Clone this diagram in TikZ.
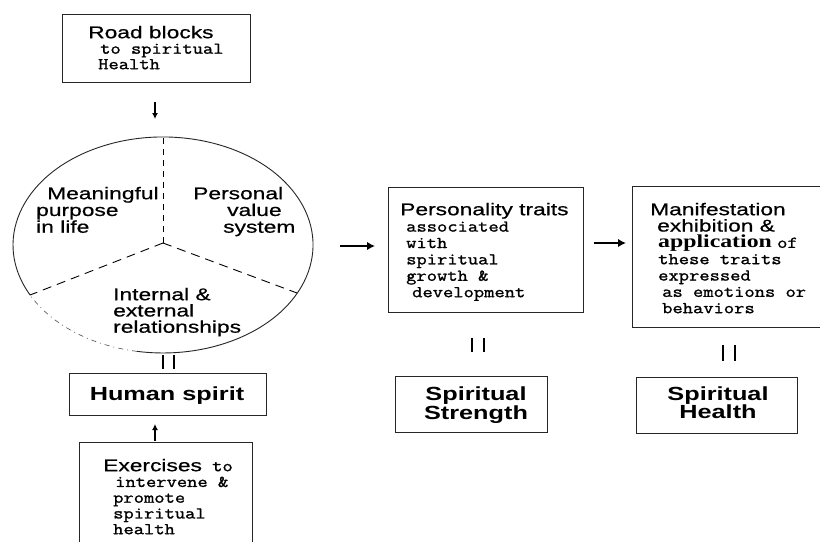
\documentclass[tikz,border=0pt]{standalone}
\usepackage{fontspec}
\usetikzlibrary{arrows.meta}
\newfontfamily\sansf[FakeStretch=1.34,FakeBold=0.6]{Liberation Sans}
\newfontfamily\sansbf[FakeStretch=1.33]{Liberation Sans}
\newfontfamily\monof[FakeBold=1.3,FakeStretch=1.21]{Latin Modern Mono}
\newfontfamily\seriff[FakeStretch=1.3]{Liberation Serif}
\newcommand\txsans{\sansf\fontsize{17}{17}\selectfont}
\newcommand\txbold{\sansbf\bfseries\fontsize{19}{19}\selectfont}
\newcommand\txmono{\monof\fontsize{16.5}{16}\selectfont}
\newcommand\txserif{\seriff\bfseries\fontsize{18.3}{17}\selectfont}
\newcommand\topline{\rule{0pt}{14pt}}
\begin{document}
\begin{tikzpicture}[x=1pt,y=-1pt,
  frame/.style={draw=black!85, line width=0.9pt, inner sep=0pt},
  openbox/.style={inner sep=0pt},
  blk/.style={align=left, anchor=north west, inner sep=0pt,
    font={\txmono\lineskiplimit=-100pt\baselineskip=#1}},
  cblk/.style={align=center, anchor=north, inner sep=0pt,
    font={\txbold\lineskiplimit=-100pt\baselineskip=#1}},
  ctr/.style={anchor=base, inner sep=0pt},
  smallarrow/.style={-{Latex[length=6pt,width=6pt]}, line width=1.3pt},
  bigarrow/.style={-{Latex[length=8pt,width=8.5pt]}, line width=2.9pt},
  eqbar/.style={line width=1.4pt},
  sep/.style={line width=0.9pt},
  faint/.style={dash pattern=on 5pt off 4pt on 1pt off 4pt, line width=0.6pt, draw=black!70},
  rim/.style={line width=0.9pt, draw=black!85}]
\fill[white] (0,0) rectangle (820,542);
\useasboundingbox (0,0) rectangle (820,542);

% ---- Road blocks box
\node[frame, minimum width=188pt, minimum height=68pt] (road) at (156,48) {};
\node[blk=15.5pt] (roadt) at (88,24) {\topline{\txsans Road blocks}\\
  \hspace*{12pt}to spiritual\\
  \hspace*{10pt}Health};

% ---- arrow down
\coordinate (a1s) at (155,102);
\coordinate (a1e) at (155,119);
\draw[smallarrow] (a1s) -- (a1e);

% ---- circle (ellipse) with three sectors
\coordinate (cc) at (163,243);
\coordinate (ctop) at (163,137);
\coordinate (cleft) at (30.1,295);
\coordinate (cright) at (297,293);
\coordinate (cbot) at ([shift={(163,245)}]100:150 and 108);
\draw[rim] (cleft) arc[start angle=152.4, end angle=460, x radius=150, y radius=108];
\draw[faint] (cbot) arc[start angle=100, end angle=152.4, x radius=150, y radius=108];
\draw[sep, dash pattern=on 6pt off 5pt] (cc) -- (ctop);
\draw[sep, dash pattern=on 9pt off 6pt] (cc) -- (cleft);
\draw[sep, dash pattern=on 9pt off 6pt] (cc) -- (cright);

\node[blk=16.75pt] (purpose) at (36,185) {\topline\hspace*{11pt}{\txsans Meaningful}\\
  {\txsans purpose}\\
  {\txsans in life}};
\node[blk=16.75pt] (value) at (193,185) {\topline{\txsans Personal}\\
  \hspace*{34pt}{\txsans value}\\
  \hspace*{30pt}{\txsans system}};
\node[blk=16.25pt] (relations) at (113,286) {\topline{\txsans Internal \&}\\
  {\txsans external}\\
  {\txsans relationships}};

% ---- equals bars under circle
\coordinate (e1a) at (163,355); \coordinate (e1b) at (163,369);
\coordinate (e2a) at (174,355); \coordinate (e2b) at (174,369);
\draw[eqbar] (e1a) -- (e1b);
\draw[eqbar] (e2a) -- (e2b);

% ---- Human spirit
\node[frame, minimum width=197pt, minimum height=42pt] (human) at (167.5,394) {};
\node[ctr] (humant) at (167,400.5) {\txbold Human spirit};

% ---- arrow up
\coordinate (a2s) at (155,441);
\coordinate (a2e) at (155,424);
\draw[smallarrow] (a2s) -- (a2e);

% ---- Exercises (cut off at bottom)
\node[openbox, minimum width=172pt, minimum height=99pt] (exer) at (166,492.5) {};
\draw[rim] (exer.south west) -- (exer.north west) -- (exer.north east) -- (exer.south east);
\node[blk=15.75pt] (exert) at (103,457) {\topline\makebox[109pt][l]{\txsans Exercises}to\\
  \hspace*{12pt}intervene \&\\
  \hspace*{10pt}promote\\
  \hspace*{10pt}spiritual\\
  \hspace*{10pt}health};

% ---- arrow to personality traits
\coordinate (a3s) at (340,246);
\coordinate (a3e) at (375,246);
\draw[bigarrow] (a3s) -- (a3e);

% ---- Personality traits box
\node[frame, minimum width=195pt, minimum height=125pt] (pers) at (485.5,249.5) {};
\node[blk=16.4pt] (perst) at (400,201) {\topline{\txsans Personality traits}\\
  \hspace*{6pt}associated\\
  \hspace*{6pt}with\\
  \hspace*{6pt}spiritual\\
  \hspace*{6pt}growth \&\\
  \hspace*{12pt}development};

\coordinate (e3a) at (472,338); \coordinate (e3b) at (472,352);
\coordinate (e4a) at (484,338); \coordinate (e4b) at (484,352);
\draw[eqbar] (e3a) -- (e3b);
\draw[eqbar] (e4a) -- (e4b);

% ---- Spiritual Strength
\node[frame, minimum width=152pt, minimum height=56pt] (strength) at (471,404) {};
\node[cblk=18.5pt] (strengtht) at (476,386.5) {\topline Spiritual\\ Strength};

% ---- arrow to manifestation
\coordinate (a4s) at (594,243);
\coordinate (a4e) at (626,243);
\draw[bigarrow] (a4s) -- (a4e);

% ---- Manifestation box (cut off at right)
\node[openbox, minimum width=187pt, minimum height=140pt] (manif) at (726.5,257) {};
\draw[rim] (manif.north east) -- (manif.north west) -- (manif.south west) -- (manif.south east);
\node[blk=16.33pt] (maniftt) at (650,201) {\topline{\txsans Manifestation}\\
  \hspace*{7pt}{\txsans exhibition \&}\\
  \hspace*{8pt}\makebox[119pt][l]{\txserif application}of\\
  \hspace*{8pt}these traits\\
  \hspace*{8pt}expressed\\
  \hspace*{12pt}as emotions or\\
  \hspace*{12pt}behaviors};

\coordinate (e5a) at (723,345); \coordinate (e5b) at (723,361);
\coordinate (e6a) at (735,345); \coordinate (e6b) at (735,361);
\draw[eqbar] (e5a) -- (e5b);
\draw[eqbar] (e6a) -- (e6b);

% ---- Spiritual Health
\node[frame, minimum width=161pt, minimum height=56pt] (health) at (716.5,405) {};
\node[cblk=18pt] (healtht) at (718,386) {\topline Spiritual\\ Health};
\end{tikzpicture}
\end{document}
